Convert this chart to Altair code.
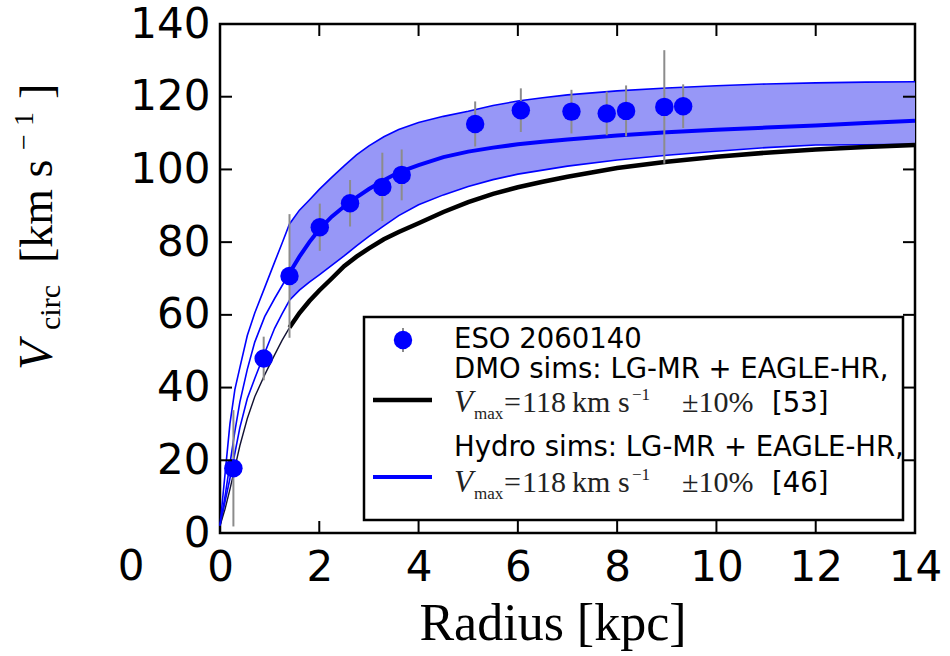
import altair as alt
import pandas as pd

# ---------------- data ----------------
R_GRID = [0, 0.1, 0.2, 0.3, 0.4, 0.55, 0.7, 0.9, 1.1, 1.25, 1.4, 1.6, 1.8, 2.0, 2.25, 2.5,
          2.75, 3.0, 3.3, 3.6, 4.0, 4.5, 5.0, 5.5, 6.0, 6.5, 7.0, 8.0, 9.0, 10.0, 11.0, 12.0,
          13.0, 14.0]
HYDRO_UPPER = [2, 16, 30, 39.5, 45.5, 54.3, 60.5, 67.5, 74.5, 79.7, 85, 88.8, 91.6, 94.5, 97.8,
               101, 104, 106.5, 109, 111, 112.9, 114.6, 116, 117.6, 118.8, 119.7, 120.5, 121.6,
               122.4, 123.0, 123.5, 123.8, 124.0, 124.1]
HYDRO_MEDIAN = [2, 10, 19, 28, 36, 45, 52.5, 59.5, 64.5, 68, 71.5, 76, 80, 83.5, 87, 89.8,
                92.3, 94.6, 97, 99.2, 101.2, 103.4, 104.9, 106, 106.9, 107.6, 108.2, 109.3,
                110.2, 110.9, 111.5, 112.1, 112.8, 113.4]
HYDRO_LOWER = [2, 8.5, 15, 22, 29, 37, 42.5, 49.5, 56.3, 60.3, 64, 66.8, 69, 71, 73.6, 76.2,
               79, 81.6, 84.5, 87.3, 90.3, 93, 95.3, 97.2, 98.7, 99.8, 100.9, 102.6, 103.9,
               105, 106, 106.7, 106.8, 106.9]
DMO_MEDIAN = [2, 6.5, 12, 18, 24, 31.5, 37.5, 43.5, 49, 53, 56.5, 60.5, 63.8, 66.7, 70, 73.4,
              76, 78.3, 80.8, 82.8, 85.2, 88.3, 91, 93.3, 95.1, 96.6, 98, 100.4, 102.1, 103.5,
              104.6, 105.5, 106.2, 106.7]
R_CONV = 1.4

R_OBS = [0.27, 0.88, 1.40, 2.01, 2.62, 3.27, 3.66, 5.14, 6.06, 7.08, 7.79, 8.18, 8.95, 9.33]
V_OBS = [17.8, 48.0, 70.7, 84.1, 90.7, 95.2, 98.5, 112.5, 116.3, 115.9, 115.4, 116.1, 117.2, 117.4]
V_ERR = [16.0, 6.0, 17.0, 6.5, 6.4, 9.4, 7.0, 6.2, 6.0, 6.0, 6.0, 7.0, 15.6, 6.0]

X_INNER_TICKS = [2, 4, 6, 8, 10, 12]
Y_INNER_TICKS = [20, 40, 60, 80, 100, 120]

LEGEND_OBS = "ESO 2060140"
LEGEND_DMO = "DMO sims: LG-MR + EAGLE-HR,"
LEGEND_HYDRO = "Hydro sims: LG-MR + EAGLE-HR,"
N_DMO = "[53]"
N_HYDRO = "[46]"

# ---------------- tables ----------------
curves = pd.DataFrame({"r": R_GRID, "upper": HYDRO_UPPER, "median": HYDRO_MEDIAN,
                       "lower": HYDRO_LOWER, "dmo": DMO_MEDIAN})
obs = pd.DataFrame({"r": R_OBS, "v": V_OBS,
                    "lo": [v - e for v, e in zip(V_OBS, V_ERR)],
                    "hi": [v + e for v, e in zip(V_OBS, V_ERR)]})
xt = pd.DataFrame({"t": X_INNER_TICKS})
yt = pd.DataFrame({"t": Y_INNER_TICKS})
one = pd.DataFrame({"a": [0]})

W, H = 695, 509
xs = alt.Scale(domain=[0, 14], nice=False, zero=False)
ys = alt.Scale(domain=[0, 140], nice=False, zero=False)
x_axis = alt.Axis(title=None, tickCount=7, labelFont="DejaVu Sans", labelFontSize=42,
                  labelColor="black", ticks=False, domain=False, grid=False,
                  labelPadding=14, labelOverlap=False, labelFlush=False)
y_axis = alt.Axis(title=None, tickCount=7, labelFont="DejaVu Sans", labelFontSize=42,
                  labelColor="black", ticks=False, domain=False, grid=False,
                  labelPadding=10, labelOverlap=False, labelFlush=False)


def X(f):
    return alt.X(f"{f}:Q", scale=xs, axis=x_axis)


def Y(f):
    return alt.Y(f"{f}:Q", scale=ys, axis=y_axis)


BLUE = "#0000ff"
FILL = "#9797f7"

c = alt.Chart(curves)
inner = c.transform_filter(alt.datum.r <= R_CONV)
outer = c.transform_filter(alt.datum.r >= R_CONV)

band = outer.mark_area(color=FILL, opacity=1).encode(x=X("r"), y=Y("upper"), y2="lower")
edge_u = c.mark_line(color=BLUE, strokeWidth=1.6).encode(x=X("r"), y=Y("upper"))
edge_l = c.mark_line(color=BLUE, strokeWidth=1.6).encode(x=X("r"), y=Y("lower"))
dmo_thin = inner.mark_line(color="#111133", strokeWidth=1.4).encode(x=X("r"), y=Y("dmo"))
dmo_thick = outer.mark_line(color="black", strokeWidth=4.5).encode(x=X("r"), y=Y("dmo"))
med_thin = inner.mark_line(color=BLUE, strokeWidth=1.6).encode(x=X("r"), y=Y("median"))
med_thick = outer.mark_line(color=BLUE, strokeWidth=4).encode(x=X("r"), y=Y("median"))

o = alt.Chart(obs)
errs = o.mark_rule(color="#8c8c8c", strokeWidth=2).encode(x=X("r"), y=Y("lo"), y2="hi")
pts = o.mark_point(shape="circle", filled=True, color=BLUE, opacity=1, size=340).encode(
    x=X("r"), y=Y("v"))

tick_style = dict(color="black", strokeWidth=2)
tx_top = alt.Chart(xt).mark_rule(**tick_style).encode(x=X("t"), y=alt.value(0), y2=alt.value(12))
tx_bot = alt.Chart(xt).mark_rule(**tick_style).encode(x=X("t"), y=alt.value(H - 12), y2=alt.value(H))
ty_l = alt.Chart(yt).mark_rule(**tick_style).encode(y=Y("t"), x=alt.value(0), x2=alt.value(12))
ty_r = alt.Chart(yt).mark_rule(**tick_style).encode(y=Y("t"), x=alt.value(W - 12), x2=alt.value(W))


def txt(s, x, y, size, font="DejaVu Sans", style="normal", angle=0, align="left",
        baseline="alphabetic", color="black"):
    return alt.Chart(one).mark_text(text=s, font=font, fontSize=size, fontStyle=style,
                                    angle=angle, align=align, baseline=baseline,
                                    color=color).encode(x=alt.value(x), y=alt.value(y))


SERIF = "Liberation Serif"

# legend
leg_box = alt.Chart(one).mark_rect(fill="white", stroke="black", strokeWidth=2.5).encode(
    x=alt.value(144), x2=alt.value(683), y=alt.value(293), y2=alt.value(496))
leg_err = alt.Chart(one).mark_rule(color="#8c8c8c", strokeWidth=2).encode(
    x=alt.value(183), y=alt.value(304), y2=alt.value(328))
leg_pt = alt.Chart(one).mark_point(shape="circle", filled=True, color=BLUE, opacity=1,
                                   size=340).encode(x=alt.value(183), y=alt.value(316))
leg_black = alt.Chart(one).mark_rule(color="black", strokeWidth=4.5).encode(
    x=alt.value(153), x2=alt.value(212), y=alt.value(376))
leg_blue = alt.Chart(one).mark_rule(color=BLUE, strokeWidth=4).encode(
    x=alt.value(153), x2=alt.value(212), y=alt.value(453))


def vmax_row(yb, nlabel):
    col = "#222222"
    return [
        txt("V", 234, yb, 31, SERIF, "italic", color=col),
        txt("max", 254, yb + 7, 17, SERIF, color=col),
        txt("=", 284, yb, 30, SERIF, color=col),
        txt("118", 302, yb, 30, SERIF, color=col),
        txt("km", 352, yb, 30, SERIF, color=col),
        txt("s", 398, yb, 30, SERIF, color=col),
        txt("\u22121", 412, yb - 12, 17, SERIF, color=col),
        txt("\u00b110%", 462, yb, 30, SERIF, color=col),
        txt(nlabel, 552, yb, 27.5, "DejaVu Sans"),
    ]


legend = [leg_box, leg_err, leg_pt, leg_black, leg_blue,
          txt(LEGEND_OBS, 234, 316, 27.5, baseline="middle"),
          txt(LEGEND_DMO, 234, 346, 27.5, baseline="middle"),
          txt(LEGEND_HYDRO, 234, 424, 27.5, baseline="middle")] \
    + vmax_row(388, N_DMO) + vmax_row(468, N_HYDRO)

# axis titles (math-style pieces)
titles = [
    txt("Radius [kpc]", 333, 616, 52, SERIF, align="center"),
    txt("V", -168, 346, 48, SERIF, "italic", angle=270),
    txt("circ", -160, 306, 30, SERIF, angle=270),
    txt("[km s", -168, 239, 46, SERIF, angle=270),
    txt("\u2212", -187, 126, 28, SERIF, angle=270),
    txt("1", -187, 102, 28, SERIF, angle=270),
    txt("]", -168, 75, 46, SERIF, angle=270),
    txt("0", -89, H + 14, 42, "DejaVu Sans", align="center", baseline="top"),
]

chart = alt.layer(
    band, edge_u, edge_l, dmo_thin, dmo_thick, med_thin, med_thick, errs, pts,
    tx_top, tx_bot, ty_l, ty_r, *legend, *titles
).properties(
    width=W, height=H,
    autosize=alt.AutoSizeParams(type="none"),
    padding={"left": 220, "top": 24, "right": 35, "bottom": 123},
    background="white",
).configure_view(stroke="black", strokeWidth=2.5)

chart.save("out.html", embed_options={"renderer": "svg", "actions": False})
